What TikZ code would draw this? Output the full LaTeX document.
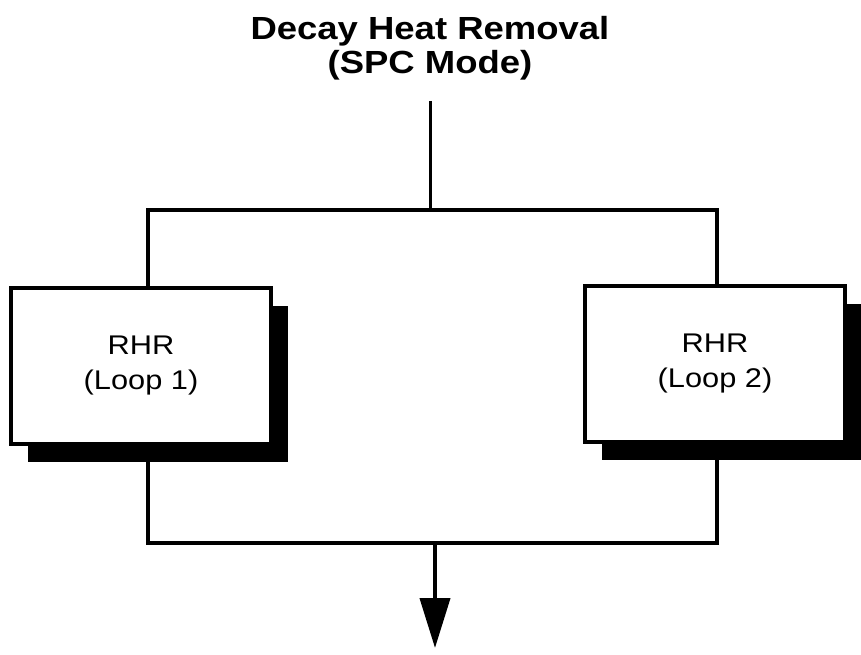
\documentclass[tikz,border=0pt]{standalone}
\usepackage{fontspec}
\setmainfont{Liberation Sans}
\newfontfamily\widefont[FakeStretch=1.14]{Liberation Sans}
\usetikzlibrary{shadows,arrows.meta}
\tikzset{
  loopbox/.style={draw,line width=4.5pt,fill=white,minimum width=260pt,minimum height=156pt,
    align=center,font=\widefont\fontsize{27}{35}\selectfont,
    drop shadow={shadow xshift=17pt,shadow yshift=-18pt,opacity=1,fill=black}},
  pipe/.style={line width=4pt}
}
\begin{document}
\begin{tikzpicture}[x=1pt,y=-1pt]
\useasboundingbox (0,0) rectangle (861,655);
\node[font=\widefont\bfseries\fontsize{32}{34}\selectfont,align=center] (title) at (430,48) {Decay Heat Removal\\(SPC Mode)};
\node[loopbox] (loop1) at (141,366) {RHR\\(Loop 1)};
\node[loopbox] (loop2) at (715,364) {RHR\\(Loop 2)};
% edit here for the split and join points
\coordinate (top) at (430,101);
\coordinate (split) at (430,210);
\coordinate (tl) at (148,210);
\coordinate (tr) at (717,210);
\coordinate (bl) at (148,543);
\coordinate (br) at (717,543);
\coordinate (join) at (435,543);
\coordinate (out) at (435,648);
\draw[line width=3pt] (top) -- (split);
\draw[pipe] (tl |- loop1.north) -- (tl) -- (tr) -- (tr |- loop2.north);
\draw[pipe] (bl |- loop1.south) -- (bl) -- (br) -- (br |- loop2.south);
\draw[pipe,-{Triangle[length=50pt,width=30pt]}] (join) -- (out);
\end{tikzpicture}
\end{document}
